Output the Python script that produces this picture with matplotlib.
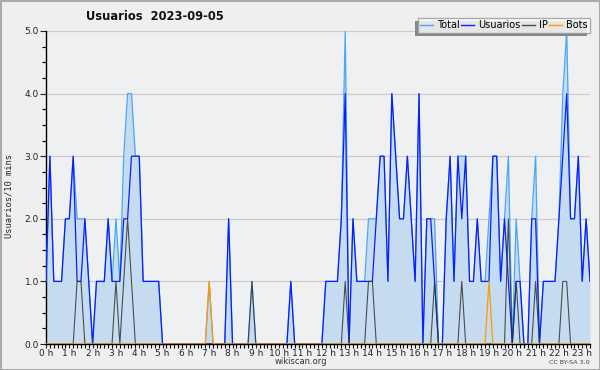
import matplotlib
matplotlib.use("Agg")
import matplotlib.pyplot as plt
from matplotlib.ticker import MultipleLocator, FixedLocator
from matplotlib.patches import Rectangle
import numpy as np

# 10-minute intervals from 00:00 to 23:20 (141 points)
total = [1,3,1,1,1,2,2,3,2,2, 2,1,0,1,1,1,2,1,2,1,
         3,4,4,3,3,1,1,1,1,1, 0,0,0,0,0,0,0,0,0,0,
         0,0,1,0,0,0,0,2,0,0, 0,0,0,1,0,0,0,0,0,0,
         0,0,0,1,0,0,0,0,0,0, 0,0,1,1,1,1,2,5,0,2,
         1,1,1,2,2,2,3,3,1,4, 3,2,2,3,2,1,4,0,2,2,
         2,0,0,2,3,1,3,3,3,1, 1,2,1,1,2,3,3,1,2,3,
         0,2,1,0,0,2,3,0,1,1, 1,1,2,4,5,2,2,3,1,2,
         1]
usuarios = [1,3,1,1,1,2,2,3,1,1, 2,1,0,1,1,1,2,1,1,1,
            2,2,3,3,3,1,1,1,1,1, 0,0,0,0,0,0,0,0,0,0,
            0,0,0,0,0,0,0,2,0,0, 0,0,0,0,0,0,0,0,0,0,
            0,0,0,1,0,0,0,0,0,0, 0,0,1,1,1,1,2,4,0,2,
            1,1,1,1,1,2,3,3,1,4, 3,2,2,3,2,1,4,0,2,2,
            1,0,0,2,3,1,3,2,3,1, 1,2,1,1,1,3,3,1,2,1,
            0,1,1,0,0,2,2,0,1,1, 1,1,2,3,4,2,2,3,1,2,
            1]
ip = [0,0,0,0,0,0,0,0,1,1, 0,0,0,0,0,0,0,0,1,0,
      1,2,1,0,0,0,0,0,0,0, 0,0,0,0,0,0,0,0,0,0,
      0,0,0,0,0,0,0,0,0,0, 0,0,0,1,0,0,0,0,0,0,
      0,0,0,0,0,0,0,0,0,0, 0,0,0,0,0,0,0,1,0,0,
      0,0,0,1,1,0,0,0,0,0, 0,0,0,0,0,0,0,0,0,0,
      1,0,0,0,0,0,0,1,0,0, 0,0,0,0,0,0,0,0,0,2,
      0,1,0,0,0,0,1,0,0,0, 0,0,0,1,1,0,0,0,0,0,
      0]
bots = [0]*42 + [1] + [0]*71 + [1] + [0]*26

hours = list(range(24))
hour_labels = [f"{h} h" for h in hours]
title = "Usuarios  2023-09-05"

x = np.arange(len(total)) / 6.0

fig = plt.figure(figsize=(6.0, 3.7), dpi=100, facecolor="#efefef")
ax = fig.add_axes([46/600, 26/370, 544/600, 313/370])
ax.set_facecolor("#eef0f2")

ax.fill_between(x, 0, total, color="#c5dcf0", lw=0, zorder=2)
ax.plot(x, total, color="#4ba6f5", lw=0.9, zorder=3, label="Total")
ax.plot(x, usuarios, color="#0a1eff", lw=0.9, zorder=4, label="Usuarios")
ax.plot(x, ip, color="#333333", lw=0.8, alpha=0.85, zorder=5, label="IP")
ax.plot(x, bots, color="#ff9900", lw=0.9, zorder=6, label="Bots")

ax.set_xlim(0, x[-1])
ax.set_ylim(0, 5)
ax.yaxis.set_major_locator(MultipleLocator(1))
ax.yaxis.set_minor_locator(MultipleLocator(0.25))
ax.set_yticklabels([f"{v:.1f}" for v in ax.get_yticks()])
ax.xaxis.set_major_locator(FixedLocator(hours))
ax.set_xticklabels(hour_labels)
ax.xaxis.set_minor_locator(MultipleLocator(1/6))

for s in ["top", "right"]:
    ax.spines[s].set_visible(False)
for s in ["left", "bottom"]:
    ax.spines[s].set_color("black")
    ax.spines[s].set_linewidth(1.0)

ax.tick_params(axis="y", which="major", direction="out", length=4, width=0.8,
               labelsize=6.5, pad=1, colors="#222222")
ax.tick_params(axis="y", which="minor", direction="out", length=3, width=0.8)
ax.tick_params(axis="x", which="major", direction="out", length=3, width=0.8,
               labelsize=6.5, pad=0.5, colors="#222222")
ax.tick_params(axis="x", which="minor", direction="out", length=3, width=0.8)
ax.grid(axis="y", which="major", color="#cccccc", lw=0.9, zorder=1)
ax.set_axisbelow(True)

fig.text(86/600, 1 - 17/370, title, fontsize=8.3, fontweight="bold",
         ha="left", va="center", color="#111111")
fig.text(9/600, 1 - 196/370, "Usuarios/10 mins", rotation=90, fontsize=6.3,
         family="DejaVu Sans Mono", ha="center", va="center", color="#222222")
fig.text(301/600, 1 - 362/370, "wikiscan.org", fontsize=6.0, ha="center",
         va="center", color="#333333")
fig.text(590/600, 1 - 363/370, "CC BY-SA 3.0", fontsize=4.6, ha="right",
         va="center", color="#444444")

leg = fig.legend(loc="upper right", bbox_to_anchor=(590/600, 1 - 18/370), ncol=4,
                 fontsize=7, handlelength=1.3, handletextpad=0.4,
                 columnspacing=0.2, borderpad=0.25, fancybox=False, shadow=False,
                 frameon=True, borderaxespad=0)
leg.get_frame().set_edgecolor("#999999")
leg.get_frame().set_linewidth(1.0)
leg.get_frame().set_facecolor("white")
for line in leg.get_lines():
    line.set_linewidth(1.0)

fig.canvas.draw()
bb = leg.get_window_extent().transformed(fig.transFigure.inverted())
fig.patches.append(Rectangle((bb.x0 - 3/600, bb.y0 - 3/370), bb.width, bb.height,
                             transform=fig.transFigure, facecolor="#888888",
                             edgecolor="none", zorder=0))
leg.set_zorder(10)

fig.patches.append(Rectangle((0.5/600, 0.5/370), 599/600, 369/370,
                             transform=fig.transFigure, fill=False,
                             edgecolor="#aaaaaa", lw=1.5))

fig.savefig("out.png", dpi=100, facecolor=fig.get_facecolor())
